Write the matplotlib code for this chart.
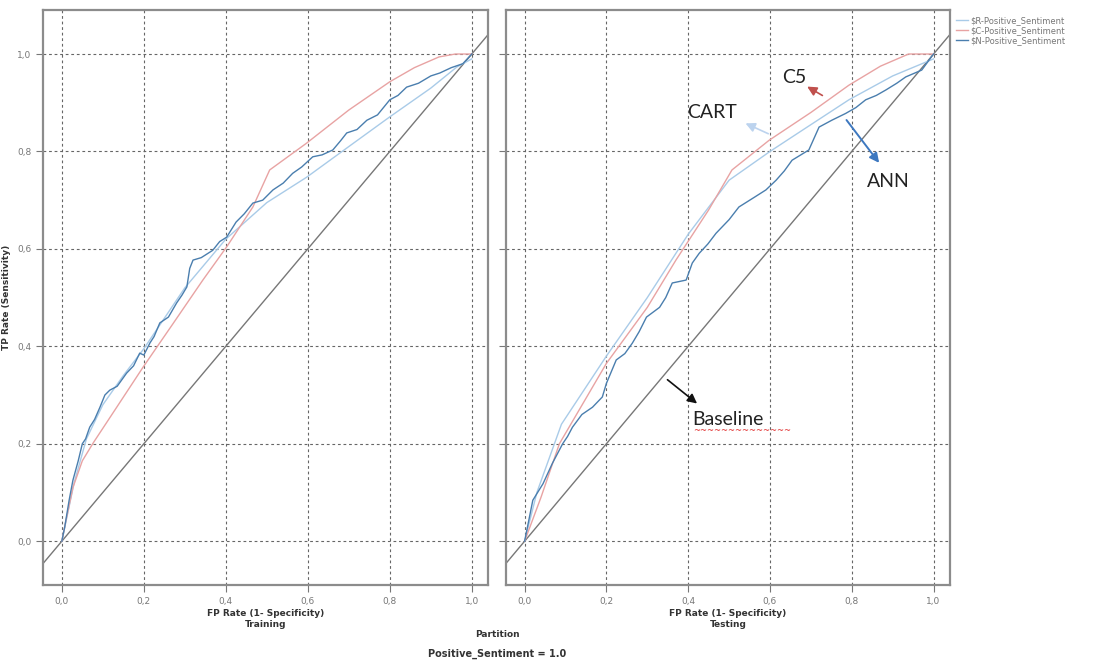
import matplotlib.pyplot as plt

plt.rcParams['font.family'] = ['DejaVu Sans']

# ---- data: (FP rate, TP rate) ----
train_c5_x = [0.0, 0.007, 0.027, 0.05, 0.076, 0.13, 0.198, 0.27, 0.344, 0.402, 0.466, 0.507, 0.597, 0.7, 0.8, 0.86, 0.92, 0.96, 1.0]
train_c5_y = [0.0, 0.03, 0.11, 0.165, 0.201, 0.27, 0.357, 0.445, 0.536, 0.604, 0.686, 0.762, 0.817, 0.885, 0.943, 0.972, 0.994, 1.0, 1.0]

train_cart_x = [0.0, 0.03, 0.06, 0.1, 0.15, 0.2, 0.3, 0.4, 0.5, 0.597, 0.7, 0.8, 0.9, 0.963, 1.0]
train_cart_y = [0.0, 0.12, 0.21, 0.28, 0.34, 0.395, 0.52, 0.62, 0.695, 0.747, 0.81, 0.871, 0.93, 0.973, 0.99]

train_ann_x = [0.0, 0.007, 0.018, 0.027, 0.04, 0.05, 0.058, 0.068, 0.08, 0.093, 0.105, 0.117, 0.135, 0.158, 0.175,
               0.19, 0.2, 0.215, 0.225, 0.239, 0.26, 0.28, 0.293, 0.305, 0.312, 0.32, 0.34, 0.368, 0.385, 0.402,
               0.425, 0.445, 0.466, 0.49, 0.515, 0.54, 0.563, 0.585, 0.612, 0.635, 0.661, 0.68, 0.695, 0.72,
               0.744, 0.77, 0.8, 0.82, 0.841, 0.87, 0.9, 0.922, 0.95, 0.978, 1.0]
train_ann_y = [0.0, 0.029, 0.085, 0.125, 0.165, 0.2, 0.21, 0.234, 0.25, 0.275, 0.3, 0.31, 0.318, 0.345, 0.36,
               0.386, 0.382, 0.407, 0.42, 0.448, 0.46, 0.489, 0.505, 0.522, 0.56, 0.577, 0.582, 0.597, 0.615, 0.624,
               0.655, 0.672, 0.694, 0.7, 0.721, 0.735, 0.755, 0.768, 0.789, 0.793, 0.803, 0.822, 0.838, 0.845,
               0.864, 0.875, 0.906, 0.915, 0.932, 0.94, 0.955, 0.961, 0.972, 0.98, 1.0]

test_c5_x = [0.0, 0.04, 0.085, 0.2, 0.3, 0.37, 0.45, 0.507, 0.598, 0.7, 0.793, 0.87, 0.939, 1.0]
test_c5_y = [0.0, 0.09, 0.2, 0.365, 0.48, 0.577, 0.68, 0.762, 0.823, 0.88, 0.936, 0.975, 1.0, 1.0]

test_cart_x = [0.0, 0.03, 0.09, 0.2, 0.3, 0.4, 0.5, 0.6, 0.7, 0.793, 0.9, 1.0]
test_cart_y = [0.0, 0.1, 0.24, 0.38, 0.5, 0.63, 0.741, 0.8, 0.855, 0.906, 0.955, 0.99]

test_ann_x = [0.0, 0.02, 0.045, 0.068, 0.093, 0.105, 0.117, 0.14, 0.166, 0.19, 0.2, 0.224, 0.245, 0.263, 0.28,
              0.298, 0.33, 0.345, 0.361, 0.395, 0.41, 0.427, 0.448, 0.468, 0.5, 0.524, 0.56, 0.59, 0.615, 0.635,
              0.654, 0.695, 0.72, 0.751, 0.785, 0.81, 0.834, 0.86, 0.883, 0.91, 0.932, 0.971, 1.0]
test_ann_y = [0.0, 0.084, 0.118, 0.16, 0.2, 0.215, 0.234, 0.26, 0.275, 0.296, 0.324, 0.372, 0.385, 0.406, 0.43,
              0.46, 0.48, 0.5, 0.53, 0.536, 0.571, 0.591, 0.61, 0.632, 0.66, 0.686, 0.705, 0.721, 0.741, 0.76,
              0.782, 0.803, 0.85, 0.864, 0.878, 0.89, 0.906, 0.915, 0.926, 0.94, 0.953, 0.967, 1.0]

ticks = [0.0, 0.2, 0.4, 0.6, 0.8, 1.0]
tick_labels = ['0,0', '0,2', '0,4', '0,6', '0,8', '1,0']

c_cart = '#a9cbe8'
c_c5 = '#e8a3a3'
c_ann = '#4a7eae'

fig = plt.figure(figsize=(11.02, 6.6), dpi=100)
ax1 = fig.add_axes([0.039, 0.1136, 0.404, 0.871])
ax2 = fig.add_axes([0.459, 0.1136, 0.403, 0.871])

panels = [(ax1, 'Training', train_cart_x, train_cart_y, train_c5_x, train_c5_y, train_ann_x, train_ann_y),
          (ax2, 'Testing', test_cart_x, test_cart_y, test_c5_x, test_c5_y, test_ann_x, test_ann_y)]

for ax, name, rx, ry, cx, cy, nx, ny in panels:
    ax.set_xlim(-0.046, 1.04)
    ax.set_ylim(-0.09, 1.09)
    ax.set_axisbelow(True)
    ax.grid(color='#666666', linestyle=(0, (2.5, 2.5)), linewidth=0.8)
    for spine in ax.spines.values():
        spine.set_color('#8c8c8c')
        spine.set_linewidth(1.6)
    ax.axline((0, 0), slope=1, color='#777777', linewidth=1.0)
    ax.plot(rx, ry, color=c_cart, linewidth=1.0, label='$R-Positive_Sentiment')
    ax.plot(cx, cy, color=c_c5, linewidth=1.0, label='$C-Positive_Sentiment')
    ax.plot(nx, ny, color=c_ann, linewidth=1.0, label='$N-Positive_Sentiment')
    ax.set_xticks(ticks)
    ax.set_xticklabels(tick_labels)
    ax.set_yticks(ticks)
    ax.set_yticklabels(tick_labels)
    ax.tick_params(labelsize=6.5, labelcolor='#777777', color='#777777', length=5, width=0.8)
    ax.set_xlabel('FP Rate (1- Specificity)\n' + name, fontsize=6.5, fontweight='bold',
                  color='#333333', labelpad=2, linespacing=1.3)

ax1.set_ylabel('TP Rate (Sensitivity)', fontsize=6.5, fontweight='bold', color='#333333', labelpad=4)
ax2.tick_params(labelleft=False)

ax2.legend(loc='upper left', bbox_to_anchor=(1.0, 1.0), fontsize=6, frameon=False,
           handlelength=1.5, handletextpad=0.2, labelspacing=0.1, borderaxespad=0.3,
           labelcolor='#777777')

# annotations on the testing panel
ann_font = dict(fontsize=14, family='Lato', color='#222222')
ax2.annotate('C5', xy=(0.685, 0.936), xytext=(0.66, 0.951), ha='center', va='center', **ann_font)
ax2.annotate('', xy=(0.685, 0.936), xytext=(0.734, 0.912),
             arrowprops=dict(arrowstyle='-|>', color='#c0504d', lw=1.2, mutation_scale=14))
ax2.annotate('CART', xy=(0.534, 0.86), xytext=(0.459, 0.879), ha='center', va='center', **ann_font)
ax2.annotate('', xy=(0.534, 0.86), xytext=(0.602, 0.834),
             arrowprops=dict(arrowstyle='-|>', color='#bcd3ee', lw=1.2, mutation_scale=14))
ax2.annotate('ANN', xy=(0.89, 0.739), xytext=(0.89, 0.739), ha='center', va='center', **ann_font)
ax2.annotate('', xy=(0.871, 0.772), xytext=(0.783, 0.869),
             arrowprops=dict(arrowstyle='-|>', color='#3d78c0', lw=1.4, mutation_scale=14))
ax2.annotate('Baseline', xy=(0.41, 0.25), xytext=(0.41, 0.25), ha='left', va='center', **ann_font)
ax2.annotate('', xy=(0.427, 0.279), xytext=(0.344, 0.335),
             arrowprops=dict(arrowstyle='-|>', color='#111111', lw=1.2, mutation_scale=14))
ax2.text(0.412, 0.227, '~' * 14, color='#e03030', fontsize=6, ha='left', va='center')

fig.text(0.451, 0.039, 'Partition', fontsize=6.5, fontweight='bold', color='#333333', ha='center', va='center')
fig.text(0.451, 0.009, 'Positive_Sentiment = 1.0', fontsize=7, fontweight='bold', color='#333333',
         ha='center', va='center')

fig.savefig('out.png', dpi=100)
